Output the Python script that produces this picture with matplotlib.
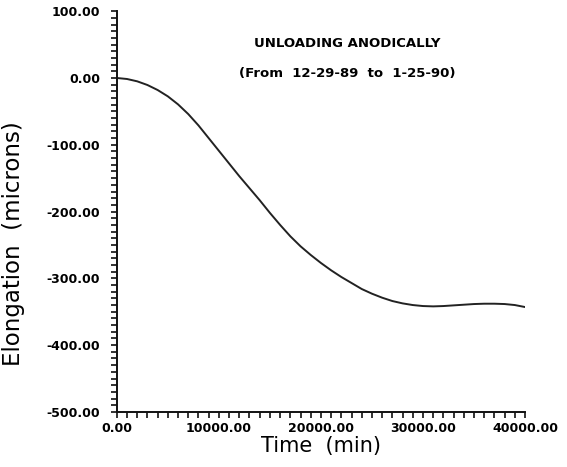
import numpy as np
import matplotlib.pyplot as plt
from matplotlib.ticker import MultipleLocator, FormatStrFormatter

# elongation vs. time, anodic unloading run (sampled every 1000 min)
time_min = list(range(0, 41000, 1000))
elongation_um = [0, -1.5, -5, -10.5, -18, -27.5, -39.5, -54, -71, -90,
                 -109, -128, -147, -165, -183, -202, -220, -237, -252, -265,
                 -277, -288, -298, -307, -316, -323, -329, -334, -337.5, -340,
                 -341.5, -342, -341.5, -340.5, -339.5, -338.5, -338, -338, -338.5, -340,
                 -343]

title_lines = ["UNLOADING ANODICALLY", "(From  12-29-89  to  1-25-90)"]

fig = plt.figure(figsize=(5.67, 4.67), dpi=100)
ax = fig.add_axes([0.206, 0.118, 0.72, 0.858])

ax.plot(time_min, elongation_um, color="#222222", lw=1.4)

ax.set_xlim(0, 40000)
ax.set_ylim(-500, 100)

ax.spines["top"].set_visible(False)
ax.spines["right"].set_visible(False)
for s in ("left", "bottom"):
    ax.spines[s].set_linewidth(1.4)
    ax.spines[s].set_color("#111111")

ax.xaxis.set_major_locator(MultipleLocator(10000))
ax.xaxis.set_minor_locator(MultipleLocator(1000))
ax.yaxis.set_major_locator(MultipleLocator(100))
ax.yaxis.set_minor_locator(MultipleLocator(10))
ax.xaxis.set_major_formatter(FormatStrFormatter("%.2f"))
ax.yaxis.set_major_formatter(FormatStrFormatter("%.2f"))

ax.tick_params(which="both", direction="out", length=4, width=1.2, color="#111111")
ax.tick_params(which="major", labelsize=9)
ax.tick_params(axis="y", which="major", pad=8)
ax.tick_params(axis="x", which="major", pad=3)
for lab in ax.get_xticklabels() + ax.get_yticklabels():
    lab.set_fontweight("bold")

ax.set_xlabel("Time  (min)", fontsize=15, labelpad=1)
ax.set_ylabel("Elongation  (microns)", fontsize=16.5)
ax.yaxis.set_label_coords(-0.225, 0.42)

ax.text(0.564, 0.92, title_lines[0], transform=ax.transAxes,
        ha="center", va="center", fontsize=9.5, fontweight="bold")
ax.text(0.564, 0.845, title_lines[1], transform=ax.transAxes,
        ha="center", va="center", fontsize=9.5, fontweight="bold")

fig.savefig("out.png", dpi=100)
